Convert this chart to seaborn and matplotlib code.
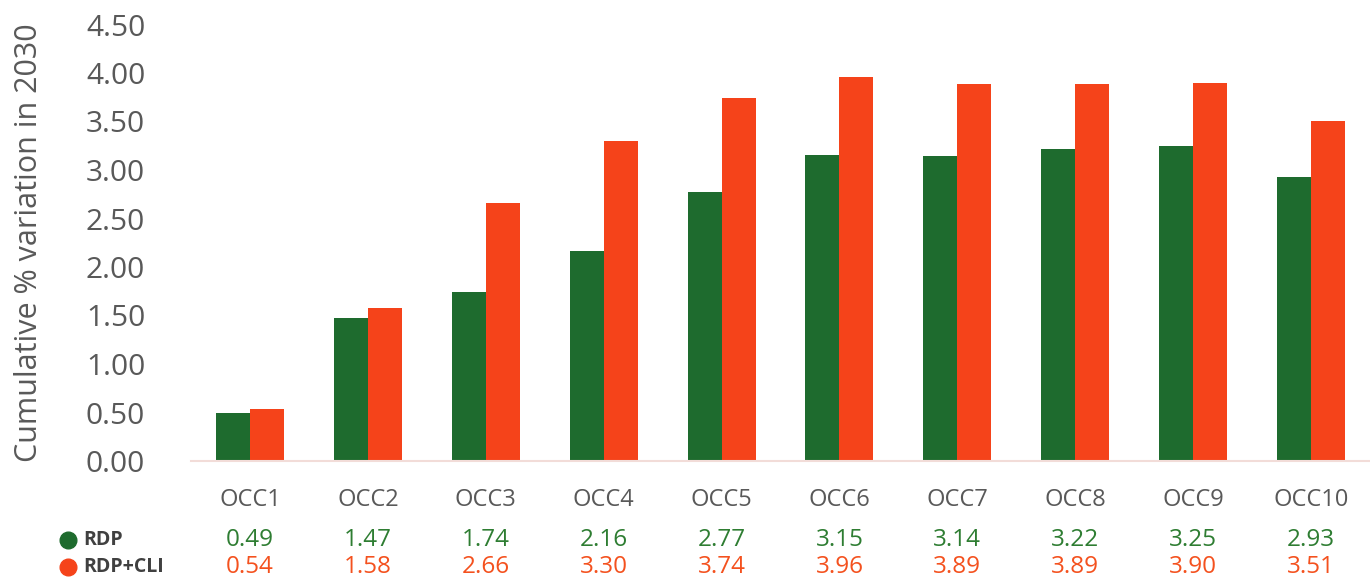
import matplotlib
matplotlib.use("Agg")
import matplotlib.pyplot as plt
import seaborn as sns
import pandas as pd
from matplotlib.lines import Line2D

categories = ["OCC1", "OCC2", "OCC3", "OCC4", "OCC5", "OCC6", "OCC7", "OCC8", "OCC9", "OCC10"]
rdp = [0.49, 1.47, 1.74, 2.16, 2.77, 3.15, 3.14, 3.22, 3.25, 2.93]
rdp_cli = [0.54, 1.58, 2.66, 3.30, 3.74, 3.96, 3.89, 3.89, 3.90, 3.51]
series_names = ["RDP", "RDP+CLI"]
yticks = [0.0, 0.5, 1.0, 1.5, 2.0, 2.5, 3.0, 3.5, 4.0, 4.5]

bar_colors = ["#1e6b2e", "#f5431a"]
text_colors = ["#2e7d32", "#f4511e"]
gray = "#595959"

sns.set_style("white")
plt.rcParams["font.family"] = ["Open Sans", "DejaVu Sans"]

df = pd.DataFrame({
    "cat": categories * 2,
    "val": rdp + rdp_cli,
    "series": [series_names[0]] * len(categories) + [series_names[1]] * len(categories),
})

fig = plt.figure(figsize=(13.70, 5.78), dpi=100)
ax = fig.add_axes([191 / 1370, 117 / 578, 1 - 191 / 1370, (461 - 24.5) / 578])

sns.barplot(data=df, x="cat", y="val", hue="series", palette=bar_colors,
            width=0.576, ax=ax, legend=False, saturation=1, linewidth=0)

ax.set_xlim(-0.5, len(categories) - 0.5)
ax.set_ylim(0, 4.5)
ax.set_yticks(yticks)
ax.set_yticklabels([f"{t:.2f}" for t in yticks], fontsize=21.5, color=gray)
ax.tick_params(axis="y", length=0, pad=33)
ax.set_xticks([])
ax.set_xlabel("")
ax.set_ylabel("Cumulative % variation in 2030", fontsize=22, color=gray, labelpad=30)
for s in ["top", "right", "left"]:
    ax.spines[s].set_visible(False)
ax.spines["bottom"].set_color("#f2dcd8")
ax.spines["bottom"].set_linewidth(1.5)

trans = ax.get_xaxis_transform()
fig_y = lambda py: (578 - py) / 578
to_ax = lambda py: (fig_y(py) - 117 / 578) / ((461 - 24.5) / 578)

for i, c in enumerate(categories):
    ax.text(i, to_ax(500), c, transform=trans, ha="center", va="center",
            fontsize=17, color=gray, clip_on=False)
    ax.text(i, to_ax(540), f"{rdp[i]:.2f}", transform=trans, ha="center", va="center",
            fontsize=17.5, color=text_colors[0], clip_on=False)
    ax.text(i, to_ax(567), f"{rdp_cli[i]:.2f}", transform=trans, ha="center", va="center",
            fontsize=17.5, color=text_colors[1], clip_on=False)

for name, col, py in zip(series_names, bar_colors, [540, 567]):
    fig.add_artist(Line2D([68 / 1370], [fig_y(py)], marker="o", markersize=12,
                          color=col, linestyle="none", transform=fig.transFigure))
    fig.text(83 / 1370, fig_y(py), name, ha="left", va="center", fontsize=14,
             fontweight="bold", color="#404040")

fig.savefig("out.png", dpi=100)
